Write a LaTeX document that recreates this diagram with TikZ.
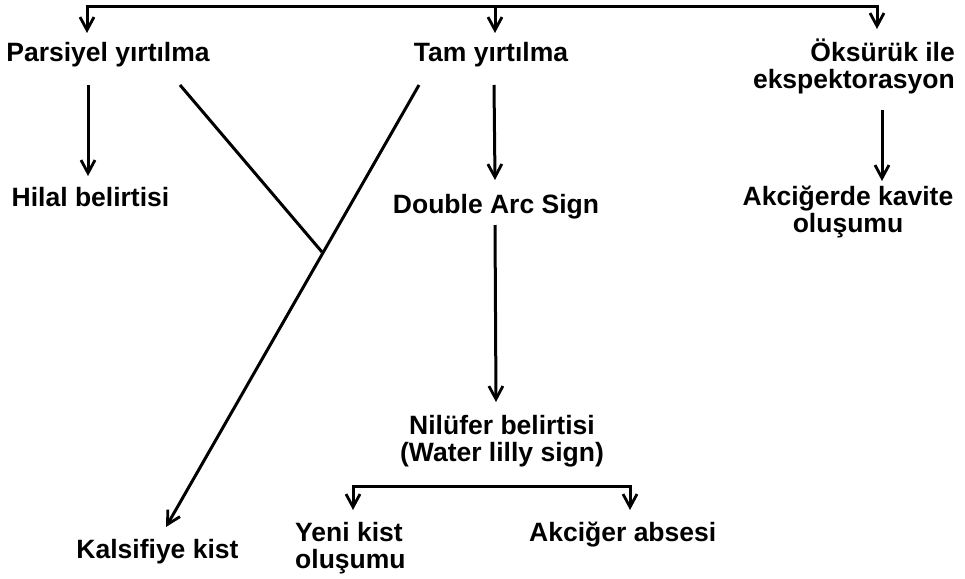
\documentclass[tikz,border=0pt]{standalone}
\usepackage{fontspec}
\setmainfont{Liberation Sans}
\usetikzlibrary{arrows.meta}
\begin{document}
\begin{tikzpicture}[x=1pt,y=-1pt,
  lbl/.style={inner sep=0pt,font=\fontsize{26.5}{27}\selectfont\bfseries},
  ln/.style={line width=3pt},
  arr/.style={line width=3pt,-{Straight Barb[length=13pt,width=14pt,line width=2.8pt]}}]
\useasboundingbox (0,0) rectangle (965,578);
% text nodes (base anchor = baseline of the last line)
\node[lbl,anchor=base] (pars) at (108,61) {Parsiyel yırtılma};
\node[lbl,anchor=base] (tam) at (491,61) {Tam yırtılma};
\node[lbl,anchor=base east,align=right] (oks) at (955,88) {Öksürük ile\\ekspektorasyon};
\node[lbl,anchor=base] (hilal) at (90.5,206) {Hilal belirtisi};
\node[lbl,anchor=base] (das) at (496,213) {Double Arc Sign};
\node[lbl,anchor=base,align=center] (akav) at (848,232) {Akciğerde kavite\\oluşumu};
\node[lbl,anchor=base] (kals) at (157.5,558) {Kalsifiye kist};
\node[lbl,anchor=base,align=center] (nil) at (502,461) {Nilüfer belirtisi\\(Water lilly sign)};
\node[lbl,anchor=base west,align=left] (yeni) at (295,568) {Yeni kist\\oluşumu};
\node[lbl,anchor=base west] (abs) at (529,541) {Akciğer absesi};
% connector points
\coordinate (tl) at (87,7);
\coordinate (tm) at (495,7);
\coordinate (tr) at (877,7);
\coordinate (parsin) at (87,33);
\coordinate (tamin) at (495,33);
\coordinate (oksin) at (877,29);
\coordinate (parsout) at (88,85);
\coordinate (hilalin) at (88,176);
\coordinate (tamout) at (494,85);
\coordinate (dasin) at (495,180);
\coordinate (oksout) at (882,110);
\coordinate (akavin) at (882,181);
\coordinate (parsdiag) at (180,85);
\coordinate (join) at (322,252);
\coordinate (tamdiag) at (419,85);
\coordinate (kalsin) at (166,527);
\coordinate (dasout) at (495,225);
\coordinate (nilin) at (496,402);
\coordinate (bl) at (353,486);
\coordinate (br) at (630,486);
\coordinate (yeniin) at (353,510);
\coordinate (absin) at (630,510);
% connectors
\draw[ln] ([xshift=-1.5pt]tl) -- ([xshift=1.5pt]tr);
\draw[arr] (tl) -- (parsin);
\draw[arr] (tm) -- (tamin);
\draw[arr] (tr) -- (oksin);
\draw[arr] (parsout) -- (hilalin);
\draw[arr] (tamout) -- (dasin);
\draw[arr] (oksout) -- (akavin);
\draw[ln] (parsdiag) -- (join);
\draw[arr] (tamdiag) -- (kalsin);
\draw[arr] (dasout) -- (nilin);
\draw[ln] ([xshift=-1.5pt]bl) -- ([xshift=1.5pt]br);
\draw[arr] (bl) -- (yeniin);
\draw[arr] (br) -- (absin);
\end{tikzpicture}
\end{document}
